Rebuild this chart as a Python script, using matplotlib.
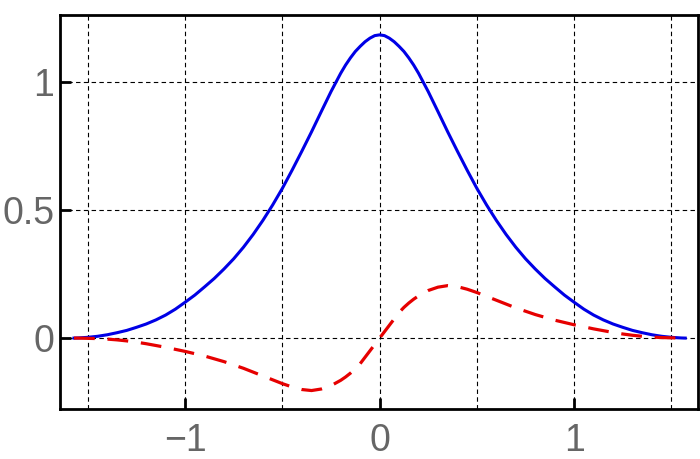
import matplotlib
matplotlib.use("Agg")
from matplotlib import pyplot as plt
from matplotlib.ticker import MultipleLocator

# values
x_vals = [-1.571, -1.55, -1.5, -1.45, -1.4, -1.35, -1.3, -1.25, -1.2, -1.15, -1.1, -1.05,
          -1.0, -0.95, -0.9, -0.85, -0.8, -0.75, -0.7, -0.65, -0.6, -0.55, -0.5, -0.45,
          -0.4, -0.35, -0.3, -0.25, -0.2, -0.175, -0.15, -0.125, -0.1, -0.075, -0.05, -0.025,
          0.0,
          0.025, 0.05, 0.075, 0.1, 0.125, 0.15, 0.175, 0.2, 0.25, 0.3, 0.35, 0.4,
          0.45, 0.5, 0.55, 0.6, 0.65, 0.7, 0.75, 0.8, 0.85, 0.9, 0.95, 1.0,
          1.05, 1.1, 1.15, 1.2, 1.25, 1.3, 1.35, 1.4, 1.45, 1.5, 1.55, 1.571]
blue_vals = [0.0, 0.0005, 0.003, 0.007, 0.013, 0.021, 0.03, 0.042, 0.055, 0.071, 0.09, 0.113,
             0.14, 0.168, 0.2, 0.233, 0.27, 0.31, 0.355, 0.405, 0.46, 0.52, 0.585, 0.656,
             0.73, 0.806, 0.885, 0.963, 1.035, 1.067, 1.095, 1.12, 1.14, 1.158, 1.172, 1.182,
             1.185,
             1.182, 1.172, 1.158, 1.14, 1.12, 1.095, 1.067, 1.035, 0.963, 0.885, 0.806, 0.73,
             0.656, 0.585, 0.52, 0.46, 0.405, 0.355, 0.31, 0.27, 0.233, 0.2, 0.168, 0.14,
             0.113, 0.09, 0.071, 0.055, 0.042, 0.03, 0.021, 0.013, 0.007, 0.003, 0.0005, 0.0]
red_vals = [0.0, 0.0, -0.001, -0.002, -0.004, -0.007, -0.011, -0.016, -0.022, -0.029, -0.036, -0.044,
            -0.052, -0.061, -0.07, -0.081, -0.092, -0.105, -0.118, -0.133, -0.148, -0.163, -0.178, -0.191,
            -0.201, -0.205, -0.199, -0.186, -0.165, -0.152, -0.137, -0.12, -0.1, -0.075, -0.05, -0.025,
            0.0,
            0.025, 0.05, 0.075, 0.1, 0.12, 0.137, 0.152, 0.165, 0.186, 0.199, 0.205, 0.201,
            0.191, 0.178, 0.163, 0.148, 0.133, 0.118, 0.105, 0.092, 0.081, 0.07, 0.061, 0.052,
            0.044, 0.036, 0.029, 0.022, 0.016, 0.011, 0.007, 0.004, 0.002, 0.001, 0.0, 0.0]
x_ticks = [-1, 0, 1]
y_ticks = [0, 0.5, 1]

fig = plt.figure(figsize=(7, 4.59), dpi=100)
ax = fig.add_axes([0.0857, 0.109, 0.911, 0.858])

ax.plot(x_vals, blue_vals, color="#0000e6", lw=2.2, solid_joinstyle="round", zorder=3)
ax.plot(x_vals, red_vals, color="#e60000", lw=2.3, dashes=(6.5, 4), zorder=3)

ax.set_xlim(-1.643, 1.635)
ax.set_ylim(-0.277, 1.262)

ax.set_xticks(x_ticks)
ax.set_xticklabels(["\u22121", "0", "1"])
ax.set_yticks(y_ticks)
ax.set_yticklabels(["0", "0.5", "1"])
ax.xaxis.set_minor_locator(MultipleLocator(0.5))

ax.grid(True, which="both", axis="x", color="black", lw=0.8, ls=(0, (4, 3)))
ax.grid(True, which="major", axis="y", color="black", lw=0.8, ls=(0, (4, 3)))

ax.tick_params(which="major", direction="in", length=8, width=2, color="black",
               labelsize=27, labelcolor="#666666")
ax.tick_params(axis="x", which="major", pad=10)
ax.tick_params(axis="y", which="major", pad=4)
ax.tick_params(which="minor", length=0)
for lab in ax.get_xticklabels() + ax.get_yticklabels():
	lab.set_family(["Liberation Sans", "DejaVu Sans"])

for s in ax.spines.values():
	s.set_linewidth(2)
	s.set_color("black")

plt.savefig("out.png", dpi=100)
